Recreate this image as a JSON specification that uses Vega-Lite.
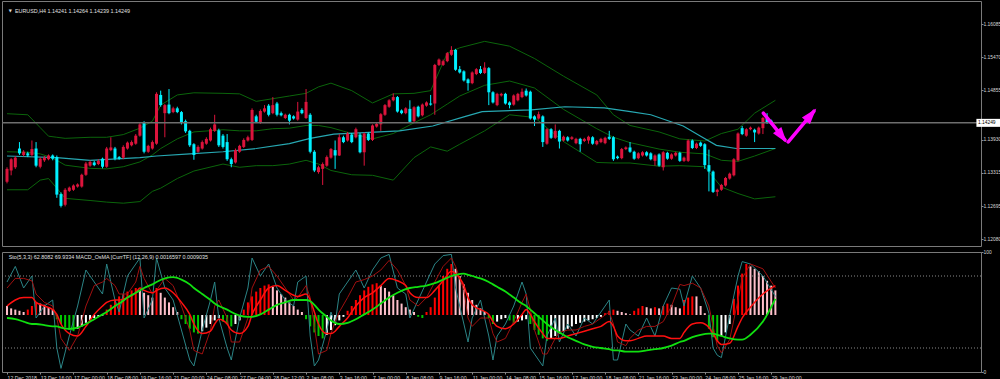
{
"$schema": "https://vega.github.io/schema/vega-lite/v6.json",
"background": "#000000",
"padding": 0,
"spacing": 1,
"config": {"view": {"stroke": "#7a7a7a", "strokeWidth": 1}, "axis": {"grid": false, "domain": false, "labelFont": "Liberation Sans", "labelFontSize": 4.9, "labelColor": "#d8d8d8", "tickColor": "#8a8a8a", "tickSize": 2, "labelPadding": 0}},
"datasets": {
"candles": [
{"i":0,"o":1.1315,"h":1.1342,"l":1.1312,"c":1.1339},{"i":1,"o":1.1336,"h":1.1359,"l":1.1327,"c":1.1357},{"i":2,"o":1.1342,"h":1.1363,"l":1.1339,"c":1.136},{"i":3,"o":1.1377,"h":1.1389,"l":1.1365,"c":1.1368},{"i":4,"o":1.1365,"h":1.1374,"l":1.1362,"c":1.1371},{"i":5,"o":1.1368,"h":1.1371,"l":1.1361,"c":1.1364},{"i":6,"o":1.1365,"h":1.1392,"l":1.1362,"c":1.1376},{"i":7,"o":1.1377,"h":1.1389,"l":1.1342,"c":1.1345},{"i":8,"o":1.1343,"h":1.1361,"l":1.134,"c":1.1358},{"i":9,"o":1.1355,"h":1.1363,"l":1.1352,"c":1.136},
{"i":10,"o":1.1357,"h":1.1366,"l":1.1355,"c":1.1364},{"i":11,"o":1.1364,"h":1.1366,"l":1.1355,"c":1.1358},{"i":12,"o":1.1361,"h":1.1364,"l":1.1285,"c":1.1291},{"i":13,"o":1.1292,"h":1.1295,"l":1.1267,"c":1.127},{"i":14,"o":1.1272,"h":1.1303,"l":1.1269,"c":1.13},{"i":15,"o":1.1298,"h":1.1306,"l":1.1296,"c":1.1304},{"i":16,"o":1.13,"h":1.131,"l":1.1298,"c":1.1308},{"i":17,"o":1.1306,"h":1.1312,"l":1.1304,"c":1.131},{"i":18,"o":1.1306,"h":1.133,"l":1.1304,"c":1.1328},{"i":19,"o":1.1328,"h":1.1352,"l":1.1326,"c":1.1349},
{"i":20,"o":1.1345,"h":1.1355,"l":1.1343,"c":1.1352},{"i":21,"o":1.1351,"h":1.1354,"l":1.1344,"c":1.1346},{"i":22,"o":1.1348,"h":1.1357,"l":1.1346,"c":1.1354},{"i":23,"o":1.1358,"h":1.136,"l":1.134,"c":1.1343},{"i":24,"o":1.1343,"h":1.138,"l":1.1341,"c":1.1377},{"i":25,"o":1.1374,"h":1.1398,"l":1.1372,"c":1.1379},{"i":26,"o":1.1377,"h":1.138,"l":1.1355,"c":1.1358},{"i":27,"o":1.1361,"h":1.1363,"l":1.1356,"c":1.1358},{"i":28,"o":1.136,"h":1.1383,"l":1.1357,"c":1.138},{"i":29,"o":1.1377,"h":1.139,"l":1.1375,"c":1.1388},
{"i":30,"o":1.1383,"h":1.1392,"l":1.1381,"c":1.1389},{"i":31,"o":1.1386,"h":1.1404,"l":1.1384,"c":1.1401},{"i":32,"o":1.1401,"h":1.1425,"l":1.1399,"c":1.1422},{"i":33,"o":1.1425,"h":1.1428,"l":1.1368,"c":1.1371},{"i":34,"o":1.1371,"h":1.1384,"l":1.1369,"c":1.1382},{"i":35,"o":1.1377,"h":1.1392,"l":1.1375,"c":1.1389},{"i":36,"o":1.1386,"h":1.1482,"l":1.1384,"c":1.1479},{"i":37,"o":1.1477,"h":1.1485,"l":1.1455,"c":1.1458},{"i":38,"o":1.1443,"h":1.146,"l":1.1398,"c":1.1458},{"i":39,"o":1.1459,"h":1.1488,"l":1.1441,"c":1.1443},
{"i":40,"o":1.1445,"h":1.1455,"l":1.1443,"c":1.1452},{"i":41,"o":1.1452,"h":1.1455,"l":1.1443,"c":1.1445},{"i":42,"o":1.1445,"h":1.1447,"l":1.1422,"c":1.1425},{"i":43,"o":1.1428,"h":1.1431,"l":1.1406,"c":1.1409},{"i":44,"o":1.141,"h":1.1412,"l":1.138,"c":1.1383},{"i":45,"o":1.1385,"h":1.1387,"l":1.1356,"c":1.1365},{"i":46,"o":1.1371,"h":1.1383,"l":1.1369,"c":1.138},{"i":47,"o":1.1377,"h":1.1392,"l":1.1375,"c":1.1389},{"i":48,"o":1.1386,"h":1.1398,"l":1.1384,"c":1.1395},{"i":49,"o":1.1392,"h":1.1416,"l":1.139,"c":1.1413},
{"i":50,"o":1.141,"h":1.144,"l":1.1408,"c":1.1422},{"i":51,"o":1.1411,"h":1.1414,"l":1.138,"c":1.1383},{"i":52,"o":1.1401,"h":1.1404,"l":1.1377,"c":1.138},{"i":53,"o":1.1389,"h":1.1404,"l":1.1354,"c":1.1357},{"i":54,"o":1.1357,"h":1.136,"l":1.1342,"c":1.1348},{"i":55,"o":1.1351,"h":1.1377,"l":1.1349,"c":1.1374},{"i":56,"o":1.1371,"h":1.1384,"l":1.1369,"c":1.1382},{"i":57,"o":1.138,"h":1.1396,"l":1.1378,"c":1.1393},{"i":58,"o":1.1392,"h":1.1401,"l":1.139,"c":1.1398},{"i":59,"o":1.1393,"h":1.1452,"l":1.1391,"c":1.1449},
{"i":60,"o":1.1437,"h":1.144,"l":1.1425,"c":1.1427},{"i":61,"o":1.1425,"h":1.145,"l":1.1423,"c":1.1447},{"i":62,"o":1.1446,"h":1.1458,"l":1.1444,"c":1.1452},{"i":63,"o":1.1457,"h":1.146,"l":1.1437,"c":1.144},{"i":64,"o":1.1443,"h":1.1473,"l":1.1441,"c":1.1458},{"i":65,"o":1.1461,"h":1.1464,"l":1.1437,"c":1.144},{"i":66,"o":1.1443,"h":1.1446,"l":1.1437,"c":1.1439},{"i":67,"o":1.1434,"h":1.1442,"l":1.1432,"c":1.144},{"i":68,"o":1.144,"h":1.1442,"l":1.1422,"c":1.1429},{"i":69,"o":1.1437,"h":1.1439,"l":1.1431,"c":1.1433},
{"i":70,"o":1.1431,"h":1.1464,"l":1.1429,"c":1.1446},{"i":71,"o":1.1449,"h":1.1452,"l":1.1441,"c":1.1443},{"i":72,"o":1.1434,"h":1.1488,"l":1.1432,"c":1.1464},{"i":73,"o":1.144,"h":1.1443,"l":1.1368,"c":1.1371},{"i":74,"o":1.1371,"h":1.1374,"l":1.1333,"c":1.1336},{"i":75,"o":1.1333,"h":1.1345,"l":1.133,"c":1.1342},{"i":76,"o":1.1339,"h":1.1351,"l":1.1309,"c":1.1348},{"i":77,"o":1.1345,"h":1.1364,"l":1.1343,"c":1.1361},{"i":78,"o":1.136,"h":1.1378,"l":1.1358,"c":1.1376},{"i":79,"o":1.1374,"h":1.1392,"l":1.1339,"c":1.1364},
{"i":80,"o":1.1364,"h":1.1404,"l":1.1363,"c":1.1398},{"i":81,"o":1.1398,"h":1.1401,"l":1.1387,"c":1.1389},{"i":82,"o":1.1392,"h":1.1408,"l":1.139,"c":1.1405},{"i":83,"o":1.1403,"h":1.1406,"l":1.1387,"c":1.1389},{"i":84,"o":1.1398,"h":1.1416,"l":1.1396,"c":1.1413},{"i":85,"o":1.1403,"h":1.1406,"l":1.1368,"c":1.137},{"i":86,"o":1.137,"h":1.1407,"l":1.1345,"c":1.1405},{"i":87,"o":1.1405,"h":1.1407,"l":1.1391,"c":1.1393},{"i":88,"o":1.1393,"h":1.1422,"l":1.1391,"c":1.142},{"i":89,"o":1.1418,"h":1.1425,"l":1.1416,"c":1.1423},
{"i":90,"o":1.1422,"h":1.1443,"l":1.141,"c":1.1441},{"i":91,"o":1.144,"h":1.146,"l":1.1438,"c":1.1458},{"i":92,"o":1.1455,"h":1.1469,"l":1.1453,"c":1.1467},{"i":93,"o":1.1467,"h":1.148,"l":1.1465,"c":1.1473},{"i":94,"o":1.1473,"h":1.1475,"l":1.1444,"c":1.1446},{"i":95,"o":1.1448,"h":1.145,"l":1.1441,"c":1.1443},{"i":96,"o":1.1443,"h":1.1454,"l":1.1441,"c":1.1452},{"i":97,"o":1.1451,"h":1.1467,"l":1.1425,"c":1.1427},{"i":98,"o":1.1428,"h":1.1456,"l":1.1426,"c":1.1454},{"i":99,"o":1.1455,"h":1.1457,"l":1.1435,"c":1.1437},
{"i":100,"o":1.1439,"h":1.1461,"l":1.1437,"c":1.1459},{"i":101,"o":1.1457,"h":1.1465,"l":1.1455,"c":1.1463},{"i":102,"o":1.1461,"h":1.1477,"l":1.1457,"c":1.1459},{"i":103,"o":1.1461,"h":1.1535,"l":1.144,"c":1.1533},{"i":104,"o":1.1533,"h":1.1545,"l":1.1531,"c":1.1543},{"i":105,"o":1.1533,"h":1.1543,"l":1.1531,"c":1.154},{"i":106,"o":1.154,"h":1.1557,"l":1.1538,"c":1.1555},{"i":107,"o":1.1552,"h":1.1568,"l":1.155,"c":1.1561},{"i":108,"o":1.1561,"h":1.1563,"l":1.1522,"c":1.1524},{"i":109,"o":1.1525,"h":1.1531,"l":1.1517,"c":1.1519},
{"i":110,"o":1.1521,"h":1.1523,"l":1.1502,"c":1.1504},{"i":111,"o":1.1506,"h":1.1508,"l":1.1485,"c":1.1499},{"i":112,"o":1.1499,"h":1.1521,"l":1.1497,"c":1.1519},{"i":113,"o":1.1516,"h":1.1527,"l":1.1514,"c":1.1525},{"i":114,"o":1.1525,"h":1.1531,"l":1.1516,"c":1.1518},{"i":115,"o":1.1518,"h":1.1538,"l":1.1516,"c":1.1528},{"i":116,"o":1.1527,"h":1.1529,"l":1.1458,"c":1.1482},{"i":117,"o":1.1482,"h":1.1484,"l":1.1461,"c":1.1463},{"i":118,"o":1.1458,"h":1.1481,"l":1.1456,"c":1.1479},{"i":119,"o":1.1476,"h":1.1481,"l":1.1474,"c":1.1479},
{"i":120,"o":1.1479,"h":1.1481,"l":1.1459,"c":1.1461},{"i":121,"o":1.1463,"h":1.1465,"l":1.1452,"c":1.1458},{"i":122,"o":1.1459,"h":1.1478,"l":1.1457,"c":1.1476},{"i":123,"o":1.1467,"h":1.1481,"l":1.1465,"c":1.1479},{"i":124,"o":1.1473,"h":1.1489,"l":1.1471,"c":1.1483},{"i":125,"o":1.1485,"h":1.1489,"l":1.1474,"c":1.1476},{"i":126,"o":1.1483,"h":1.1485,"l":1.1431,"c":1.1433},{"i":127,"o":1.1437,"h":1.1439,"l":1.1419,"c":1.1431},{"i":128,"o":1.1433,"h":1.1446,"l":1.1431,"c":1.1441},{"i":129,"o":1.1437,"h":1.1439,"l":1.138,"c":1.1389},
{"i":130,"o":1.1386,"h":1.1415,"l":1.1384,"c":1.1413},{"i":131,"o":1.1413,"h":1.1415,"l":1.1395,"c":1.1397},{"i":132,"o":1.1397,"h":1.1422,"l":1.1395,"c":1.141},{"i":133,"o":1.141,"h":1.1412,"l":1.1377,"c":1.139},{"i":134,"o":1.1392,"h":1.1401,"l":1.139,"c":1.1399},{"i":135,"o":1.1398,"h":1.14,"l":1.139,"c":1.1392},{"i":136,"o":1.1395,"h":1.14,"l":1.1393,"c":1.1398},{"i":137,"o":1.1387,"h":1.1397,"l":1.1385,"c":1.1395},{"i":138,"o":1.1395,"h":1.1397,"l":1.1371,"c":1.1385},{"i":139,"o":1.1391,"h":1.1397,"l":1.1389,"c":1.1395},
{"i":140,"o":1.1392,"h":1.1401,"l":1.1386,"c":1.1399},{"i":141,"o":1.1398,"h":1.14,"l":1.1384,"c":1.1386},{"i":142,"o":1.1385,"h":1.1393,"l":1.1383,"c":1.1391},{"i":143,"o":1.1389,"h":1.1397,"l":1.1387,"c":1.1395},{"i":144,"o":1.1387,"h":1.1399,"l":1.1385,"c":1.1397},{"i":145,"o":1.1399,"h":1.141,"l":1.1393,"c":1.1395},{"i":146,"o":1.1398,"h":1.14,"l":1.1354,"c":1.1357},{"i":147,"o":1.1362,"h":1.1364,"l":1.1357,"c":1.1359},{"i":148,"o":1.1359,"h":1.1378,"l":1.1357,"c":1.1376},{"i":149,"o":1.1376,"h":1.1381,"l":1.1374,"c":1.1379},
{"i":150,"o":1.1379,"h":1.1389,"l":1.1369,"c":1.1371},{"i":151,"o":1.1371,"h":1.1373,"l":1.1356,"c":1.1358},{"i":152,"o":1.1359,"h":1.137,"l":1.1357,"c":1.1368},{"i":153,"o":1.1364,"h":1.1372,"l":1.1362,"c":1.137},{"i":154,"o":1.137,"h":1.1372,"l":1.1362,"c":1.1364},{"i":155,"o":1.1368,"h":1.137,"l":1.1355,"c":1.1357},{"i":156,"o":1.1354,"h":1.1366,"l":1.1345,"c":1.1364},{"i":157,"o":1.1366,"h":1.1368,"l":1.1343,"c":1.1345},{"i":158,"o":1.1342,"h":1.1372,"l":1.1336,"c":1.137},{"i":159,"o":1.1369,"h":1.1371,"l":1.1356,"c":1.1358},
{"i":160,"o":1.1358,"h":1.1368,"l":1.1356,"c":1.1366},{"i":161,"o":1.1364,"h":1.1371,"l":1.1362,"c":1.1369},{"i":162,"o":1.1369,"h":1.1371,"l":1.1352,"c":1.1354},{"i":163,"o":1.1354,"h":1.1362,"l":1.1352,"c":1.136},{"i":164,"o":1.1354,"h":1.1394,"l":1.1352,"c":1.1392},{"i":165,"o":1.1392,"h":1.1394,"l":1.1376,"c":1.1378},{"i":166,"o":1.1378,"h":1.1388,"l":1.1376,"c":1.1386},{"i":167,"o":1.1388,"h":1.139,"l":1.138,"c":1.1382},{"i":168,"o":1.1385,"h":1.1387,"l":1.1339,"c":1.1346},{"i":169,"o":1.1346,"h":1.1375,"l":1.1297,"c":1.1334},
{"i":170,"o":1.1334,"h":1.1336,"l":1.1294,"c":1.1296},{"i":171,"o":1.1296,"h":1.1302,"l":1.1288,"c":1.13},{"i":172,"o":1.13,"h":1.1311,"l":1.1298,"c":1.1309},{"i":173,"o":1.1308,"h":1.1324,"l":1.1306,"c":1.1322},{"i":174,"o":1.1321,"h":1.1332,"l":1.1319,"c":1.133},{"i":175,"o":1.1327,"h":1.1359,"l":1.1325,"c":1.1357},{"i":176,"o":1.1355,"h":1.1407,"l":1.1353,"c":1.1405},{"i":177,"o":1.1415,"h":1.1419,"l":1.1402,"c":1.1404},{"i":178,"o":1.1401,"h":1.1415,"l":1.1399,"c":1.1413},{"i":179,"o":1.1413,"h":1.1418,"l":1.1411,"c":1.1416},
{"i":180,"o":1.1412,"h":1.1414,"l":1.1389,"c":1.1407},{"i":181,"o":1.1405,"h":1.1418,"l":1.1403,"c":1.1416},{"i":182,"o":1.1415,"h":1.1436,"l":1.1404,"c":1.1434},{"i":183,"o":1.1433,"h":1.1443,"l":1.1423,"c":1.1425},{"i":184,"o":1.1429,"h":1.1431,"l":1.1421,"c":1.1423},{"i":185,"o":1.14241,"h":1.14264,"l":1.14239,"c":1.14249}
],
"bands": [
{"i":0,"up":1.1442,"mid":1.1371,"lo":1.13},{"i":5,"up":1.144,"mid":1.137,"lo":1.13},{"i":8,"up":1.1416,"mid":1.1367,"lo":1.1318},{"i":10,"up":1.14,"mid":1.1362,"lo":1.1321},{"i":12,"up":1.1398,"mid":1.1355,"lo":1.1303},{"i":14,"up":1.1396,"mid":1.1346,"lo":1.1284},{"i":20,"up":1.1398,"mid":1.134,"lo":1.128},{"i":24,"up":1.1398,"mid":1.1339,"lo":1.1277},{"i":28,"up":1.1403,"mid":1.1343,"lo":1.1275},{"i":32,"up":1.1415,"mid":1.1352,"lo":1.1278},{"i":35,"up":1.1428,"mid":1.1365,"lo":1.1297},{"i":37,"up":1.1458,"mid":1.1377,"lo":1.1303},{"i":41,"up":1.1477,"mid":1.1395,"lo":1.1321},{"i":45,"up":1.1481,"mid":1.1408,"lo":1.1335},{"i":52,"up":1.148,"mid":1.1412,"lo":1.1348},{"i":56,"up":1.1479,"mid":1.141,"lo":1.1342},{"i":60,"up":1.1465,"mid":1.141,"lo":1.1345},{"i":64,"up":1.147,"mid":1.1414,"lo":1.1345},{"i":68,"up":1.1475,"mid":1.1415,"lo":1.1348},{"i":72,"up":1.148,"mid":1.142,"lo":1.1355},{"i":75,"up":1.1492,"mid":1.142,"lo":1.1348},{"i":78,"up":1.1499,"mid":1.1416,"lo":1.1336},{"i":83,"up":1.1485,"mid":1.1405,"lo":1.1328},{"i":88,"up":1.1462,"mid":1.1395,"lo":1.1327},{"i":93,"up":1.1479,"mid":1.1405,"lo":1.1318},{"i":98,"up":1.148,"mid":1.1425,"lo":1.136},{"i":102,"up":1.1485,"mid":1.144,"lo":1.138},{"i":106,"up":1.1555,"mid":1.146,"lo":1.1372},{"i":109,"up":1.1565,"mid":1.1475,"lo":1.1385},{"i":115,"up":1.1577,"mid":1.1495,"lo":1.141},{"i":121,"up":1.1568,"mid":1.1503,"lo":1.144},{"i":127,"up":1.1545,"mid":1.149,"lo":1.1435},{"i":134,"up":1.1512,"mid":1.145,"lo":1.139},{"i":142,"up":1.1477,"mid":1.1414,"lo":1.1351},{"i":146,"up":1.144,"mid":1.1398,"lo":1.135},{"i":150,"up":1.142,"mid":1.1388,"lo":1.135},{"i":157,"up":1.1408,"mid":1.1376,"lo":1.1344},{"i":162,"up":1.1395,"mid":1.137,"lo":1.1345},{"i":168,"up":1.1391,"mid":1.1367,"lo":1.1343},{"i":172,"up":1.1405,"mid":1.1355,"lo":1.1305},{"i":176,"up":1.1413,"mid":1.1353,"lo":1.1293},{"i":180,"up":1.1443,"mid":1.1363,"lo":1.1283},{"i":185,"up":1.1467,"mid":1.1377,"lo":1.1287}
],
"ma": [
{"i":0,"v":1.1363},{"i":12,"v":1.136},{"i":20,"v":1.1355},{"i":32,"v":1.136},{"i":36,"v":1.1363},{"i":44,"v":1.1367},{"i":52,"v":1.1371},{"i":60,"v":1.1377},{"i":68,"v":1.1386},{"i":73,"v":1.1396},{"i":78.7,"v":1.1404},{"i":94.5,"v":1.141},{"i":102.5,"v":1.1419},{"i":110.4,"v":1.1437},{"i":114.4,"v":1.1446},{"i":126.3,"v":1.1449},{"i":134.3,"v":1.1455},{"i":143.8,"v":1.1453},{"i":150.1,"v":1.1446},{"i":155,"v":1.144},{"i":162.8,"v":1.1419},{"i":166.8,"v":1.1401},{"i":170.8,"v":1.1383},{"i":175.6,"v":1.1377},{"i":185,"v":1.1377}
],
"arrows": [{"x1":182.1,"p1":1.1443,"x2":187.3,"p2":1.1393},{"x1":188.1,"p1":1.13894,"x2":194.3,"p2":1.1447}],
"head1": [{"x":186.6,"p":1.13994}],
"head2": [{"x":193.6,"p":1.144}],
"last": [{"p":1.14249}],
"hist": [
{"i":0,"h":55,"ph":"pd"},{"i":1,"h":53,"ph":"pd"},{"i":2,"h":52,"ph":"pd"},{"i":3,"h":51,"ph":"pd"},{"i":4,"h":50,"ph":"pd"},{"i":5,"h":52,"ph":"ru"},{"i":6,"h":55,"ph":"ru"},{"i":7,"h":58,"ph":"ru"},{"i":8,"h":57,"ph":"pd"},{"i":9,"h":56,"ph":"pd"},
{"i":10,"h":54,"ph":"pd"},{"i":11,"h":52,"ph":"pd"},{"i":12,"h":44,"ph":"gd"},{"i":13,"h":40,"ph":"gd"},{"i":14,"h":37,"ph":"gd"},{"i":15,"h":35,"ph":"gd"},{"i":16,"h":34,"ph":"gd"},{"i":17,"h":36,"ph":"wu"},{"i":18,"h":38,"ph":"wu"},{"i":19,"h":41,"ph":"wu"},
{"i":20,"h":43,"ph":"wu"},{"i":21,"h":45,"ph":"wu"},{"i":22,"h":46,"ph":"wu"},{"i":23,"h":47,"ph":"wu"},{"i":24,"h":52,"ph":"ru"},{"i":25,"h":56,"ph":"ru"},{"i":26,"h":60,"ph":"ru"},{"i":27,"h":63,"ph":"ru"},{"i":28,"h":65,"ph":"ru"},{"i":29,"h":67,"ph":"ru"},
{"i":30,"h":68,"ph":"ru"},{"i":31,"h":70,"ph":"ru"},{"i":32,"h":68,"ph":"pd"},{"i":33,"h":66,"ph":"pd"},{"i":34,"h":64,"ph":"pd"},{"i":35,"h":62,"ph":"pd"},{"i":36,"h":70,"ph":"ru"},{"i":37,"h":66,"ph":"pd"},{"i":38,"h":62,"ph":"pd"},{"i":39,"h":58,"ph":"pd"},
{"i":40,"h":54,"ph":"pd"},{"i":41,"h":50,"ph":"pd"},{"i":42,"h":44,"ph":"gd"},{"i":43,"h":40,"ph":"gd"},{"i":44,"h":36,"ph":"gd"},{"i":45,"h":33,"ph":"gd"},{"i":46,"h":32,"ph":"gd"},{"i":47,"h":34,"ph":"wu"},{"i":48,"h":37,"ph":"wu"},{"i":49,"h":40,"ph":"wu"},
{"i":50,"h":43,"ph":"wu"},{"i":51,"h":45,"ph":"wu"},{"i":52,"h":42,"ph":"gd"},{"i":53,"h":40,"ph":"gd"},{"i":54,"h":38,"ph":"gd"},{"i":55,"h":40,"ph":"wu"},{"i":56,"h":43,"ph":"wu"},{"i":57,"h":52,"ph":"ru"},{"i":58,"h":58,"ph":"ru"},{"i":59,"h":63,"ph":"ru"},
{"i":60,"h":67,"ph":"ru"},{"i":61,"h":70,"ph":"ru"},{"i":62,"h":72,"ph":"ru"},{"i":63,"h":73,"ph":"ru"},{"i":64,"h":71,"ph":"pd"},{"i":65,"h":68,"ph":"pd"},{"i":66,"h":65,"ph":"pd"},{"i":67,"h":62,"ph":"pd"},{"i":68,"h":58,"ph":"pd"},{"i":69,"h":55,"ph":"pd"},
{"i":70,"h":52,"ph":"pd"},{"i":71,"h":50,"ph":"pd"},{"i":72,"h":44,"ph":"gd"},{"i":73,"h":38,"ph":"gd"},{"i":74,"h":33,"ph":"gd"},{"i":75,"h":30,"ph":"gd"},{"i":76,"h":28,"ph":"gd"},{"i":77,"h":31,"ph":"wu"},{"i":78,"h":35,"ph":"wu"},{"i":79,"h":39,"ph":"wu"},
{"i":80,"h":43,"ph":"wu"},{"i":81,"h":46,"ph":"wu"},{"i":82,"h":51,"ph":"ru"},{"i":83,"h":55,"ph":"ru"},{"i":84,"h":60,"ph":"ru"},{"i":85,"h":64,"ph":"ru"},{"i":86,"h":68,"ph":"ru"},{"i":87,"h":71,"ph":"ru"},{"i":88,"h":73,"ph":"ru"},{"i":89,"h":74,"ph":"ru"},
{"i":90,"h":72,"ph":"pd"},{"i":91,"h":70,"ph":"pd"},{"i":92,"h":67,"ph":"pd"},{"i":93,"h":64,"ph":"pd"},{"i":94,"h":60,"ph":"pd"},{"i":95,"h":57,"ph":"pd"},{"i":96,"h":54,"ph":"pd"},{"i":97,"h":52,"ph":"pd"},{"i":98,"h":50,"ph":"pd"},{"i":99,"h":46,"ph":"gd"},
{"i":100,"h":45,"ph":"gd"},{"i":101,"h":50,"ph":"ru"},{"i":102,"h":54,"ph":"ru"},{"i":103,"h":62,"ph":"ru"},{"i":104,"h":72,"ph":"ru"},{"i":105,"h":80,"ph":"ru"},{"i":106,"h":86,"ph":"ru"},{"i":107,"h":90,"ph":"ru"},{"i":108,"h":86,"ph":"pd"},{"i":109,"h":80,"ph":"pd"},
{"i":110,"h":73,"ph":"pd"},{"i":111,"h":66,"ph":"pd"},{"i":112,"h":60,"ph":"pd"},{"i":113,"h":56,"ph":"pd"},{"i":114,"h":53,"ph":"pd"},{"i":115,"h":50,"ph":"pd"},{"i":116,"h":45,"ph":"gd"},{"i":117,"h":40,"ph":"gd"},{"i":118,"h":42,"ph":"wu"},{"i":119,"h":44,"ph":"wu"},
{"i":120,"h":45,"ph":"wu"},{"i":121,"h":43,"ph":"gd"},{"i":122,"h":41,"ph":"gd"},{"i":123,"h":42,"ph":"wu"},{"i":124,"h":43,"ph":"wu"},{"i":125,"h":44,"ph":"wu"},{"i":126,"h":40,"ph":"gd"},{"i":127,"h":35,"ph":"gd"},{"i":128,"h":31,"ph":"gd"},{"i":129,"h":28,"ph":"gd"},
{"i":130,"h":26,"ph":"gd"},{"i":131,"h":28,"ph":"wu"},{"i":132,"h":30,"ph":"wu"},{"i":133,"h":32,"ph":"wu"},{"i":134,"h":34,"ph":"wu"},{"i":135,"h":36,"ph":"wu"},{"i":136,"h":38,"ph":"wu"},{"i":137,"h":40,"ph":"wu"},{"i":138,"h":41,"ph":"wu"},{"i":139,"h":42,"ph":"wu"},
{"i":140,"h":43,"ph":"wu"},{"i":141,"h":44,"ph":"wu"},{"i":142,"h":45,"ph":"wu"},{"i":143,"h":46,"ph":"wu"},{"i":144,"h":49,"ph":"ru"},{"i":145,"h":51,"ph":"ru"},{"i":146,"h":52,"ph":"ru"},{"i":147,"h":51,"ph":"pd"},{"i":148,"h":50,"ph":"pd"},{"i":149,"h":49,"ph":"pd"},
{"i":150,"h":48,"ph":"pd"},{"i":151,"h":51,"ph":"ru"},{"i":152,"h":53,"ph":"ru"},{"i":153,"h":55,"ph":"ru"},{"i":154,"h":54,"ph":"pd"},{"i":155,"h":53,"ph":"pd"},{"i":156,"h":54,"ph":"ru"},{"i":157,"h":53,"ph":"pd"},{"i":158,"h":55,"ph":"ru"},{"i":159,"h":57,"ph":"ru"},
{"i":160,"h":56,"ph":"pd"},{"i":161,"h":54,"ph":"pd"},{"i":162,"h":53,"ph":"pd"},{"i":163,"h":60,"ph":"ru"},{"i":164,"h":62,"ph":"ru"},{"i":165,"h":63,"ph":"ru"},{"i":166,"h":63,"ph":"pd"},{"i":167,"h":55,"ph":"pd"},{"i":168,"h":49,"ph":"pd"},{"i":169,"h":36,"ph":"gd"},
{"i":170,"h":29,"ph":"gd"},{"i":171,"h":26,"ph":"gd"},{"i":172,"h":30,"ph":"wu"},{"i":173,"h":33,"ph":"wu"},{"i":174,"h":40,"ph":"wu"},{"i":175,"h":61,"ph":"ru"},{"i":176,"h":72,"ph":"ru"},{"i":177,"h":82,"ph":"ru"},{"i":178,"h":90,"ph":"ru"},{"i":179,"h":88,"ph":"pd"},
{"i":180,"h":86,"ph":"pd"},{"i":181,"h":84,"ph":"pd"},{"i":182,"h":80,"ph":"pd"},{"i":183,"h":76,"ph":"pd"},{"i":184,"h":72,"ph":"pd"},{"i":185,"h":68,"ph":"pd"}
],
"osc": [
{"i":0,"k":75,"d":70,"r":55,"g":45},{"i":2,"k":88,"d":78,"r":60,"g":44},{"i":4,"k":70,"d":78,"r":62,"g":42},{"i":6,"k":80,"d":76,"r":62,"g":40},{"i":7,"k":45,"d":65,"r":58,"g":40},{"i":9,"k":55,"d":58,"r":55,"g":39},{"i":11,"k":60,"d":55,"r":52,"g":38},{"i":12,"k":20,"d":45,"r":48,"g":38},{"i":13,"k":3,"d":28,"r":40,"g":37},{"i":15,"k":30,"d":18,"r":32,"g":36},
{"i":17,"k":55,"d":30,"r":30,"g":37},{"i":19,"k":85,"d":55,"r":38,"g":40},{"i":21,"k":75,"d":72,"r":48,"g":44},{"i":23,"k":65,"d":75,"r":55,"g":48},{"i":24,"k":90,"d":78,"r":58,"g":50},{"i":26,"k":60,"d":72,"r":60,"g":55},{"i":27,"k":50,"d":65,"r":60,"g":57},{"i":29,"k":80,"d":65,"r":62,"g":62},{"i":31,"k":90,"d":75,"r":66,"g":66},{"i":32,"k":95,"d":88,"r":70,"g":68},
{"i":33,"k":45,"d":78,"r":68,"g":70},{"i":35,"k":60,"d":65,"r":66,"g":73},{"i":36,"k":95,"d":68,"r":68,"g":75},{"i":38,"k":70,"d":78,"r":70,"g":78},{"i":40,"k":60,"d":72,"r":66,"g":79},{"i":42,"k":35,"d":55,"r":58,"g":77},{"i":44,"k":10,"d":35,"r":48,"g":73},{"i":45,"k":5,"d":18,"r":40,"g":70},{"i":47,"k":35,"d":15,"r":32,"g":65},{"i":49,"k":60,"d":35,"r":34,"g":60},
{"i":50,"k":75,"d":55,"r":40,"g":57},{"i":51,"k":45,"d":60,"r":44,"g":55},{"i":53,"k":20,"d":45,"r":40,"g":52},{"i":54,"k":10,"d":25,"r":35,"g":50},{"i":56,"k":45,"d":25,"r":32,"g":47},{"i":58,"k":70,"d":45,"r":38,"g":46},{"i":59,"k":95,"d":70,"r":48,"g":46},{"i":61,"k":80,"d":85,"r":60,"g":48},{"i":63,"k":90,"d":88,"r":70,"g":52},{"i":65,"k":70,"d":80,"r":72,"g":56},
{"i":67,"k":60,"d":70,"r":68,"g":58},{"i":69,"k":55,"d":60,"r":64,"g":60},{"i":70,"k":75,"d":62,"r":63,"g":60},{"i":72,"k":80,"d":72,"r":65,"g":60},{"i":73,"k":30,"d":62,"r":60,"g":59},{"i":74,"k":5,"d":38,"r":50,"g":56},{"i":75,"k":10,"d":15,"r":40,"g":52},{"i":77,"k":35,"d":18,"r":32,"g":46},{"i":78,"k":50,"d":32,"r":32,"g":43},{"i":79,"k":40,"d":42,"r":34,"g":41},
{"i":80,"k":65,"d":50,"r":38,"g":40},{"i":82,"k":75,"d":62,"r":45,"g":41},{"i":84,"k":85,"d":75,"r":55,"g":44},{"i":86,"k":70,"d":77,"r":62,"g":48},{"i":88,"k":85,"d":80,"r":66,"g":52},{"i":90,"k":95,"d":85,"r":72,"g":57},{"i":92,"k":98,"d":93,"r":78,"g":62},{"i":94,"k":70,"d":85,"r":76,"g":66},{"i":96,"k":65,"d":72,"r":72,"g":69},{"i":97,"k":45,"d":60,"r":66,"g":70},
{"i":99,"k":60,"d":55,"r":62,"g":71},{"i":101,"k":75,"d":62,"r":62,"g":72},{"i":103,"k":90,"d":75,"r":68,"g":74},{"i":105,"k":97,"d":88,"r":76,"g":77},{"i":107,"k":98,"d":95,"r":84,"g":80},{"i":108,"k":70,"d":88,"r":82,"g":81},{"i":110,"k":40,"d":68,"r":72,"g":82},{"i":111,"k":25,"d":45,"r":62,"g":81},{"i":112,"k":45,"d":38,"r":56,"g":80},{"i":114,"k":60,"d":45,"r":52,"g":78},
{"i":116,"k":30,"d":45,"r":48,"g":75},{"i":117,"k":10,"d":32,"r":42,"g":73},{"i":118,"k":30,"d":25,"r":38,"g":71},{"i":120,"k":40,"d":28,"r":36,"g":67},{"i":122,"k":55,"d":42,"r":40,"g":62},{"i":124,"k":75,"d":58,"r":48,"g":57},{"i":125,"k":65,"d":65,"r":52,"g":55},{"i":126,"k":20,"d":52,"r":48,"g":52},{"i":127,"k":15,"d":35,"r":42,"g":49},{"i":129,"k":5,"d":15,"r":32,"g":43},
{"i":130,"k":30,"d":15,"r":28,"g":40},{"i":132,"k":45,"d":28,"r":28,"g":35},{"i":133,"k":25,"d":33,"r":28,"g":33},{"i":135,"k":40,"d":35,"r":30,"g":29},{"i":137,"k":30,"d":35,"r":32,"g":26},{"i":139,"k":45,"d":38,"r":34,"g":23},{"i":141,"k":40,"d":40,"r":36,"g":21},{"i":143,"k":50,"d":45,"r":38,"g":20},{"i":145,"k":60,"d":50,"r":42,"g":19},{"i":146,"k":10,"d":40,"r":38,"g":18},
{"i":147,"k":10,"d":25,"r":30,"g":18},{"i":149,"k":40,"d":22,"r":26,"g":17},{"i":150,"k":35,"d":28,"r":26,"g":17},{"i":152,"k":30,"d":35,"r":28,"g":17},{"i":154,"k":45,"d":38,"r":30,"g":18},{"i":156,"k":30,"d":38,"r":30,"g":19},{"i":158,"k":55,"d":42,"r":30,"g":20},{"i":160,"k":70,"d":55,"r":28,"g":22},{"i":162,"k":69,"d":73,"r":28,"g":25},{"i":163,"k":55,"d":72,"r":33,"g":26},
{"i":165,"k":80,"d":74,"r":40,"g":29},{"i":167,"k":70,"d":70,"r":41,"g":31},{"i":169,"k":49,"d":55,"r":37,"g":32},{"i":170,"k":20,"d":38,"r":32,"g":32},{"i":171,"k":14,"d":22,"r":26,"g":31},{"i":172,"k":12,"d":16,"r":23,"g":30},{"i":174,"k":47,"d":27,"r":24,"g":28},{"i":176,"k":80,"d":60,"r":38,"g":27},{"i":177,"k":92,"d":78,"r":45,"g":27},{"i":179,"k":90,"d":90,"r":54,"g":31},
{"i":182,"k":80,"d":86,"r":65,"g":42},{"i":185,"k":63,"d":70,"r":72,"g":61}
]
},
"vconcat": [
{
"width": 979, "height": 245,
"layer": [
{"data": {"name": "bands"}, "mark": {"type": "line", "color": "#0b650b", "strokeWidth": 1},
 "encoding": {"x": {"field": "i", "type": "quantitative", "scale": {"domain": [0, 233.3], "nice": false, "zero": false}, "axis": null},
  "y": {"field": "up", "type": "quantitative", "title": null, "scale": {"domain": [1.12044, 1.1643], "nice": false, "zero": false},
   "axis": {"orient": "right", "values": [1.16395, 1.16085, 1.15775, 1.1547, 1.1516, 1.14855, 1.14545, 1.1393, 1.1362, 1.13315, 1.13005, 1.12695, 1.1239, 1.1208], "format": ".5f", "title": null}}}},
{"data": {"name": "bands"}, "mark": {"type": "line", "color": "#0b650b", "strokeWidth": 1},
 "encoding": {"x": {"field": "i", "type": "quantitative"}, "y": {"field": "mid", "type": "quantitative", "title": null}}},
{"data": {"name": "bands"}, "mark": {"type": "line", "color": "#0b650b", "strokeWidth": 1},
 "encoding": {"x": {"field": "i", "type": "quantitative"}, "y": {"field": "lo", "type": "quantitative", "title": null}}},
{"data": {"name": "ma"}, "mark": {"type": "line", "color": "#27a8b2", "strokeWidth": 1.2},
 "encoding": {"x": {"field": "i", "type": "quantitative"}, "y": {"field": "v", "type": "quantitative", "title": null}}},
{"data": {"name": "candles"}, "mark": {"type": "rule", "strokeWidth": 1},
 "encoding": {"x": {"field": "i", "type": "quantitative"}, "y": {"field": "l", "type": "quantitative", "title": null}, "y2": {"field": "h"},
  "color": {"condition": {"test": "datum.c >= datum.o", "value": "#dc143c"}, "value": "#00f0ff"}}},
{"data": {"name": "candles"}, "mark": {"type": "bar", "size": 3},
 "encoding": {"x": {"field": "i", "type": "quantitative"}, "y": {"field": "o", "type": "quantitative", "title": null}, "y2": {"field": "c"},
  "color": {"condition": {"test": "datum.c >= datum.o", "value": "#dc143c"}, "value": "#00f0ff"}}},
{"data": {"name": "last"}, "mark": {"type": "rule", "color": "#6e6e6e", "strokeWidth": 1.5},
 "encoding": {"y": {"field": "p", "type": "quantitative", "title": null}}},
{"data": {"name": "arrows"}, "mark": {"type": "rule", "color": "#ff00ff", "strokeWidth": 3.5, "strokeCap": "round"},
 "encoding": {"x": {"field": "x1", "type": "quantitative"}, "x2": {"field": "x2"}, "y": {"field": "p1", "type": "quantitative", "title": null}, "y2": {"field": "p2"}}},
{"data": {"name": "head1"}, "mark": {"type": "point", "shape": "M0,-1L0.65,1L-0.65,1Z", "filled": true, "color": "#ff00ff", "size": 260, "angle": 143, "opacity": 1},
 "encoding": {"x": {"field": "x", "type": "quantitative"}, "y": {"field": "p", "type": "quantitative", "title": null}}},
{"data": {"name": "head2"}, "mark": {"type": "point", "shape": "M0,-1L0.65,1L-0.65,1Z", "filled": true, "color": "#ff00ff", "size": 260, "angle": 40, "opacity": 1},
 "encoding": {"x": {"field": "x", "type": "quantitative"}, "y": {"field": "p", "type": "quantitative", "title": null}}},
{"data": {"name": "last"}, "mark": {"type": "bar", "size": 8, "color": "#ffffff"},
 "encoding": {"x": {"datum": 233.4}, "x2": {"datum": 240}, "y": {"field": "p", "type": "quantitative", "title": null}}},
{"data": {"name": "last"}, "mark": {"type": "text", "align": "left", "baseline": "middle", "font": "Liberation Sans", "fontSize": 4.9, "color": "#000000", "dx": 1.5},
 "encoding": {"x": {"datum": 233.4}, "y": {"field": "p", "type": "quantitative", "title": null}, "text": {"field": "p", "type": "quantitative", "format": ".5f"}}},
{"data": {"values": [{"t": "▼"}]}, "mark": {"type": "text", "align": "left", "baseline": "middle", "font": "DejaVu Sans", "fontSize": 4, "color": "#e0e0e0"},
 "encoding": {"x": {"datum": 0.4}, "y": {"datum": 1.16345}, "text": {"field": "t"}}},
{"data": {"values": [{"t": "EURUSD,H4  1.14241 1.14264 1.14239 1.14249"}]}, "mark": {"type": "text", "align": "left", "baseline": "middle", "font": "Liberation Sans", "fontSize": 5.4, "color": "#e0e0e0"},
 "encoding": {"x": {"datum": 1.9}, "y": {"datum": 1.16335}, "text": {"field": "t"}}}
]
},
{
"width": 979, "height": 120,
"layer": [
{"data": {"name": "hist"}, "mark": {"type": "bar", "size": 2},
 "encoding": {"x": {"field": "i", "type": "quantitative", "scale": {"domain": [0, 233.3], "nice": false, "zero": false},
   "axis": {"values": [0, 8, 16, 24, 32, 40, 48, 56, 64, 72, 80, 88, 96, 104, 112, 120, 128, 136, 144, 152, 160, 168, 176, 184],
    "labelExpr": "['12 Dec 2018','13 Dec 16:00','17 Dec 00:00','18 Dec 08:00','19 Dec 16:00','21 Dec 00:00','24 Dec 08:00','27 Dec 04:00','28 Dec 12:00','2 Jan 08:00','3 Jan 16:00','7 Jan 00:00','8 Jan 08:00','9 Jan 16:00','11 Jan 00:00','14 Jan 08:00','15 Jan 16:00','17 Jan 00:00','18 Jan 08:00','21 Jan 16:00','23 Jan 00:00','24 Jan 08:00','25 Jan 16:00','29 Jan 00:00'][round(datum.value/8)]",
    "labelAlign": "left", "labelPadding": 1.5, "labelOverlap": false, "labelBound": false, "labelFlush": false, "labelFontSize": 5.2, "title": null}},
  "y": {"field": "h", "type": "quantitative", "title": null, "scale": {"domain": [0, 100], "nice": false, "zero": false},
   "axis": {"orient": "right", "values": [100, 80, 20, 0], "title": null}},
  "y2": {"datum": 47.5},
  "color": {"field": "ph", "type": "nominal", "legend": null, "scale": {"domain": ["ru", "pd", "gd", "wu"], "range": ["#ff0000", "#ffc0cb", "#00c800", "#ffffff"]}}}},
{"data": {"values": [{"v": 80}, {"v": 20}]}, "mark": {"type": "rule", "color": "#8a8a8a", "strokeWidth": 1, "strokeDash": [1, 2]},
 "encoding": {"y": {"field": "v", "type": "quantitative", "title": null}}},
{"data": {"name": "osc"}, "mark": {"type": "line", "color": "#2b8486", "strokeWidth": 1},
 "encoding": {"x": {"field": "i", "type": "quantitative"}, "y": {"field": "k", "type": "quantitative", "title": null}}},
{"data": {"name": "osc"}, "mark": {"type": "line", "color": "#a01010", "strokeWidth": 1},
 "encoding": {"x": {"field": "i", "type": "quantitative"}, "y": {"field": "d", "type": "quantitative", "title": null}}},
{"data": {"name": "osc"}, "mark": {"type": "line", "color": "#ff1010", "strokeWidth": 1.5, "interpolate": "monotone"},
 "encoding": {"x": {"field": "i", "type": "quantitative"}, "y": {"field": "r", "type": "quantitative", "title": null}}},
{"data": {"name": "osc"}, "mark": {"type": "line", "color": "#10e010", "strokeWidth": 1.8, "interpolate": "monotone"},
 "encoding": {"x": {"field": "i", "type": "quantitative"}, "y": {"field": "g", "type": "quantitative", "title": null}}},
{"data": {"values": [{"t": "Sto(5,3,3) 62.8082 69.9334  MACD_OsMA [CurrTF] (12,26,9) 0.0016597 0.0009035"}]}, "mark": {"type": "text", "align": "left", "baseline": "middle", "font": "Liberation Sans", "fontSize": 5.4, "color": "#e0e0e0"},
 "encoding": {"x": {"datum": 0.4}, "y": {"datum": 95.5}, "text": {"field": "t"}}}
]
}
]
}
